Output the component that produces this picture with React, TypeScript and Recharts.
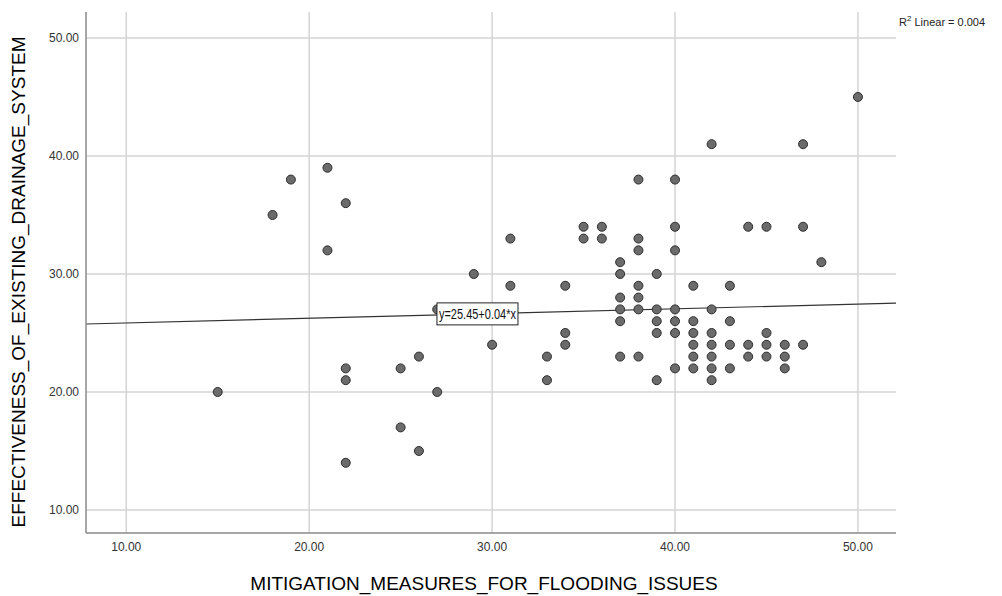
import React from 'react';
import {
  ScatterChart,
  Scatter,
  XAxis,
  YAxis,
  CartesianGrid,
  ReferenceLine,
} from 'recharts';

// MITIGATION_MEASURES_FOR_FLOODING_ISSUES (x) vs EFFECTIVENESS_OF_EXISTING_DRAINAGE_SYSTEM (y)
const xValues = [
  15, 18, 19, 21, 21, 22, 22, 22, 22, 25, 25, 26, 26, 27, 27, 29, 30, 31, 31, 33, 33,
  34, 34, 34, 35, 35, 36, 36,
  37, 37, 37, 37, 37, 37,
  38, 38, 38, 38, 38, 38, 38,
  39, 39, 39, 39, 39,
  40, 40, 40, 40, 40, 40, 40,
  41, 41, 41, 41, 41, 41,
  42, 42, 42, 42, 42, 42, 42,
  43, 43, 43, 43,
  44, 44, 44,
  45, 45, 45, 45,
  46, 46, 46,
  47, 47, 47,
  48, 50,
];
const yValues = [
  20, 35, 38, 39, 32, 36, 22, 21, 14, 22, 17, 23, 15, 27, 20, 30, 24, 33, 29, 23, 21,
  29, 25, 24, 34, 33, 34, 33,
  31, 30, 28, 27, 26, 23,
  38, 33, 32, 29, 28, 27, 23,
  30, 27, 26, 25, 21,
  38, 34, 32, 27, 26, 25, 22,
  29, 26, 25, 24, 23, 22,
  41, 27, 25, 24, 23, 22, 21,
  29, 26, 24, 22,
  34, 24, 23,
  34, 25, 24, 23,
  24, 23, 22,
  41, 34, 24,
  31, 45,
];

const axisTicks = [10, 20, 30, 40, 50];
const xDomain = [7.8, 52.08];
const yDomain = [8.05, 52.2];

// fit line: y = 25.45 + 0.04 * x, R² = 0.004
const intercept = 25.45;
const slope = 0.04;
const rSquared = '0.004';
const fitLabelX = 29.2;

const points = xValues.map((x, i) => ({ x, y: yValues[i] }));
const fitAt = (x: number) => intercept + slope * x;
const fitLabelPoint = [{ x: fitLabelX, y: fitAt(fitLabelX) }];

const font = '"Liberation Sans", Arial, sans-serif';

const Dot = (p: any) => (
  <circle cx={p.cx} cy={p.cy} r={4.5} fill="#6b6b6b" stroke="#2e2e2e" strokeWidth={1} />
);

// equation box sitting on the fit line
const FitLabel = (p: any) => {
  const { cx, cy } = p;
  const w = 81;
  const h = 22;
  return (
    <g>
      <rect x={cx - w / 2} y={cy - h / 2} width={w} height={h} fill="#fff" stroke="#222" strokeWidth={1} />
      <text
        x={cx - w / 2 + 2}
        y={cy + 5}
        fontSize={14}
        fontFamily={font}
        fill="#111"
        textLength={w - 4}
        lengthAdjust="spacingAndGlyphs"
      >
        {`y=${intercept}+${slope}*x`}
      </text>
    </g>
  );
};

export default function App() {
  return (
    <div style={{ position: 'absolute', left: 0, top: 0, width: 1002, height: 596, background: '#fff', fontFamily: font }}>
      <ScatterChart
        width={1002}
        height={596}
        margin={{ top: 12, right: 106, left: 0, bottom: 0 }}
      >
        <CartesianGrid stroke="#d4d4d4" strokeWidth={1.5} verticalValues={axisTicks} horizontalValues={axisTicks} />
        <XAxis
          type="number"
          dataKey="x"
          domain={xDomain}
          allowDataOverflow
          ticks={axisTicks}
          tickFormatter={(v: number) => v.toFixed(2)}
          tickLine={false}
          axisLine={{ stroke: '#8a8a8a', strokeWidth: 1.5 }}
          tick={{ fill: '#333', fontSize: 12, fontFamily: font }}
          height={63}
          tickMargin={3}
        />
        <YAxis
          type="number"
          dataKey="y"
          domain={yDomain}
          allowDataOverflow
          ticks={axisTicks}
          tickFormatter={(v: number) => v.toFixed(2)}
          tickLine={false}
          axisLine={{ stroke: '#8a8a8a', strokeWidth: 1.5 }}
          tick={{ fill: '#333', fontSize: 12, fontFamily: font }}
          width={86}
          tickMargin={1}
        />
        <ReferenceLine
          segment={[
            { x: xDomain[0], y: fitAt(xDomain[0]) },
            { x: xDomain[1], y: fitAt(xDomain[1]) },
          ]}
          stroke="#333"
          strokeWidth={1.2}
        />
        <Scatter data={points} fill="#6b6b6b" isAnimationActive={false} shape={Dot} />
        <Scatter data={fitLabelPoint} isAnimationActive={false} shape={FitLabel} />
      </ScatterChart>
      <div
        style={{
          position: 'absolute',
          left: 19,
          top: 282,
          transform: 'translate(-50%, -50%) rotate(-90deg)',
          whiteSpace: 'nowrap',
          fontSize: 19,
          color: '#000',
        }}
      >
        EFFECTIVENESS_OF_EXISTING_DRAINAGE_SYSTEM
      </div>
      <div
        style={{
          position: 'absolute',
          left: 484,
          top: 584,
          transform: 'translate(-50%, -50%)',
          whiteSpace: 'nowrap',
          fontSize: 19,
          color: '#000',
        }}
      >
        MITIGATION_MEASURES_FOR_FLOODING_ISSUES
      </div>
      <div style={{ position: 'absolute', left: 899, top: 14, fontSize: 11, color: '#222', whiteSpace: 'nowrap' }}>
        R<sup style={{ fontSize: 8 }}>2</sup> Linear = {rSquared}
      </div>
    </div>
  );
}
